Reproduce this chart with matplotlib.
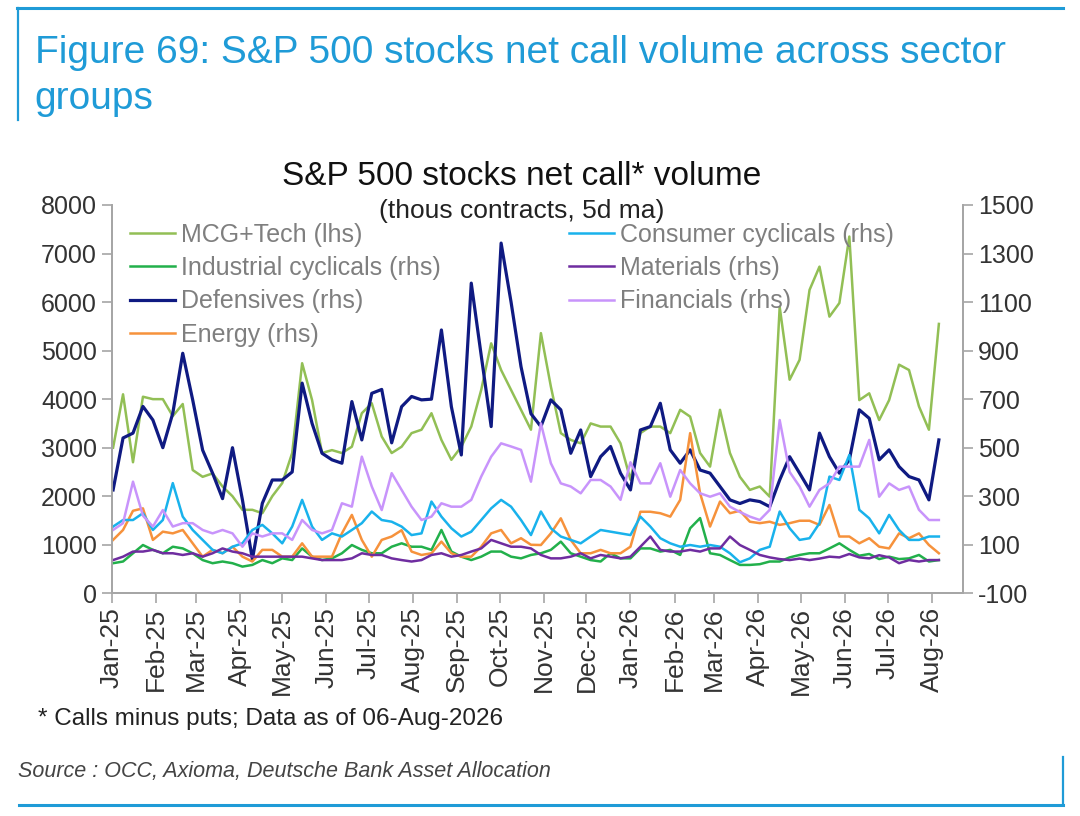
import matplotlib
matplotlib.use('Agg')
import matplotlib.pyplot as plt
import matplotlib.dates as mdates
from matplotlib.lines import Line2D
import pandas as pd

plt.rcParams['font.family'] = ['Liberation Sans', 'DejaVu Sans']
plt.rcParams['axes.unicode_minus'] = False

# weekly samples of the 5d moving average
dates = pd.date_range('2025-01-02', periods=84, freq='7D')

mcg_tech = [3000, 4100, 2700, 4050, 4000, 4000, 3650, 3900, 2540, 2400, 2470, 2200, 2000, 1720, 1720, 1650, 2000, 2270, 2890, 4740, 3980, 2890,
            2950, 2890, 3020, 3710, 3915, 3230, 2890, 3020, 3300, 3370, 3710, 3160, 2750, 3020, 3435, 4190, 5150, 4600, 4190, 3780, 3370,
            5360, 4260, 3300, 3160, 3090, 3500, 3435, 3435, 3090, 2340, 3300, 3435, 3435, 3300, 3780, 3640, 2890, 2610, 3780, 2890, 2400,
            2130, 2200, 1990, 5900, 4400, 4810, 6250, 6730, 5700, 5980, 7350, 3980, 4120, 3570, 3980, 4710, 4600, 3850, 3370, 5550]
industrial = [24, 31, 65, 99, 79, 65, 92, 85, 65, 37, 24, 31, 24, 10, 17, 37, 24, 44, 37, 85, 51, 37,
              44, 65, 99, 79, 65, 65, 92, 106, 92, 92, 79, 161, 72, 51, 37, 51, 72, 72, 51, 44, 58,
              65, 79, 113, 65, 51, 37, 31, 65, 44, 44, 85, 85, 72, 79, 58, 168, 210, 65, 58, 37, 17,
              17, 20, 31, 31, 48, 58, 65, 65, 85, 106, 79, 55, 62, 41, 51, 41, 44, 58, 31, 37]
defensives = [326, 540, 560, 670, 614, 500, 642, 889, 697, 490, 395, 290, 500, 285, 40, 271, 367, 367, 400, 766, 600, 477,
              450, 436, 690, 532, 724, 740, 520, 669, 711, 697, 700, 985, 669, 470, 1178, 880, 587, 1343, 1100, 834, 640,
              587, 697, 656, 477, 573, 381, 463, 505, 395, 326, 573, 587, 683, 491, 436, 491, 408, 395, 340, 285, 270,
              285, 278, 257, 367, 463, 395, 326, 560, 463, 395, 450, 656, 621, 450, 491, 422, 381, 367, 285, 532]
energy = [120, 161, 240, 250, 120, 154, 147, 161, 106, 51, 79, 65, 92, 51, 31, 79, 79, 51, 51, 106, 51, 51,
          51, 147, 223, 120, 51, 120, 134, 160, 72, 58, 65, 113, 65, 51, 51, 92, 147, 161, 106, 127, 100,
          99, 147, 209, 120, 65, 65, 79, 65, 65, 92, 236, 236, 230, 216, 285, 560, 312, 175, 278, 230, 240,
          195, 189, 195, 182, 189, 199, 199, 182, 264, 134, 134, 106, 127, 92, 85, 147, 127, 147, 99, 65]
consumer = [175, 202, 202, 230, 161, 202, 354, 216, 161, 120, 79, 65, 92, 106, 161, 182, 147, 106, 175, 285, 175, 120,
            147, 134, 161, 189, 237, 202, 195, 175, 140, 147, 278, 216, 168, 134, 154, 202, 250, 285, 257, 202, 140,
            237, 168, 134, 120, 106, 134, 161, 154, 147, 140, 216, 175, 127, 106, 92, 99, 92, 99, 92, 65, 28,
            44, 79, 92, 237, 168, 120, 127, 189, 381, 367, 470, 244, 209, 147, 223, 161, 120, 120, 134, 134]
materials = [37, 51, 72, 72, 79, 65, 65, 58, 65, 51, 65, 85, 72, 65, 51, 51, 51, 51, 51, 51, 44, 37,
             37, 37, 44, 65, 58, 58, 44, 37, 31, 37, 58, 65, 51, 58, 72, 85, 120, 106, 92, 92, 85,
             58, 44, 44, 51, 65, 44, 58, 51, 44, 51, 92, 134, 79, 72, 72, 79, 72, 85, 85, 134, 99,
             79, 58, 48, 41, 37, 43, 37, 43, 51, 48, 62, 48, 44, 57, 48, 24, 37, 31, 37, 37]
financials = [161, 189, 360, 220, 175, 243, 175, 189, 189, 161, 147, 161, 147, 92, 147, 134, 147, 147, 120, 202, 161, 147,
              161, 271, 257, 463, 340, 243, 395, 326, 257, 202, 216, 271, 257, 257, 285, 381, 463, 518, 505, 491, 360,
              600, 436, 353, 340, 312, 367, 367, 340, 285, 440, 353, 353, 436, 298, 408, 353, 312, 298, 312, 257, 235,
              216, 202, 244, 614, 400, 340, 257, 326, 353, 422, 422, 422, 532, 298, 353, 326, 340, 244, 202, 202]

grey = '#a6a6a6'
blue = '#1f9bd7'

fig = plt.figure(figsize=(10.8, 8.16), dpi=100)
ax = fig.add_axes([0.1034, 0.2729, 0.7883, 0.4759])
ax2 = ax.twinx()

l_mcg, = ax.plot(dates, mcg_tech, color='#92bf55', lw=1.8)
l_ind, = ax2.plot(dates, industrial, color='#22b04b', lw=1.8)
l_def, = ax2.plot(dates, defensives, color='#0f1a82', lw=2.3)
l_en, = ax2.plot(dates, energy, color='#f6923c', lw=1.8)
l_cc, = ax2.plot(dates, consumer, color='#19b2ec', lw=1.8)
l_mat, = ax2.plot(dates, materials, color='#6f2da0', lw=1.8)
l_fin, = ax2.plot(dates, financials, color='#c894fb', lw=1.8)

ax.set_ylim(0, 8000)
ax.set_yticks(range(0, 8001, 1000))
ax2.set_ylim(-100, 1500)
ax2.set_yticks(range(-100, 1501, 200))
ax.set_xlim(pd.Timestamp('2025-01-01'), pd.Timestamp('2026-08-23'))
ax.xaxis.set_major_locator(mdates.MonthLocator())
ax.xaxis.set_major_formatter(mdates.DateFormatter('%b-%y'))

for a in (ax, ax2):
    a.spines['top'].set_visible(False)
    for s in ('left', 'right', 'bottom'):
        a.spines[s].set_color(grey)
        a.spines[s].set_linewidth(1.3)
    a.tick_params(colors=grey, labelcolor='#333333', labelsize=18, length=7, width=1.2)
ax.tick_params(axis='x', rotation=90, pad=3, labelsize=19)
ax2.tick_params(axis='y', pad=4)

leg_kw = dict(loc='upper left', frameon=False, fontsize=18, handlelength=1.8, handletextpad=0.24,
              labelspacing=0.37, borderpad=0, borderaxespad=0, labelcolor='#7f7f7f')
leg1 = ax2.legend([l_mcg, l_ind, l_def, l_en],
                  ['MCG+Tech (lhs)', 'Industrial cyclicals (rhs)', 'Defensives (rhs)', 'Energy (rhs)'],
                  bbox_to_anchor=(0.0215, 0.954), **leg_kw)
ax2.add_artist(leg1)
ax2.legend([l_cc, l_mat, l_fin],
           ['Consumer cyclicals (rhs)', 'Materials (rhs)', 'Financials (rhs)'],
           bbox_to_anchor=(0.537, 0.954), **leg_kw)

fig.text(0.032, 0.923, 'Figure 69: S&P 500 stocks net call volume across sector', color=blue, fontsize=28)
fig.text(0.032, 0.866, 'groups', color=blue, fontsize=28)
fig.text(0.483, 0.773, 'S&P 500 stocks net call* volume', ha='center', fontsize=24, color='#111111')
fig.text(0.483, 0.733, '(thous contracts, 5d ma)', ha='center', fontsize=19, color='#222222')
fig.text(0.035, 0.112, '* Calls minus puts; Data as of 06-Aug-2026', fontsize=17.5, color='#222222')
fig.text(0.017, 0.048, 'Source : OCC, Axioma, Deutsche Bank Asset Allocation', fontsize=15.5,
         style='italic', color='#444444')

# report frame lines
fig.add_artist(Line2D([0.016, 0.984], [0.990, 0.990], color=blue, lw=2.2))
fig.add_artist(Line2D([0.017, 0.017], [0.990, 0.853], color=blue, lw=1.6))
fig.add_artist(Line2D([0.018, 0.984], [0.014, 0.014], color=blue, lw=2.2))
fig.add_artist(Line2D([0.984, 0.984], [0.014, 0.072], color=blue, lw=1.6))

fig.savefig('out.png', dpi=100)
